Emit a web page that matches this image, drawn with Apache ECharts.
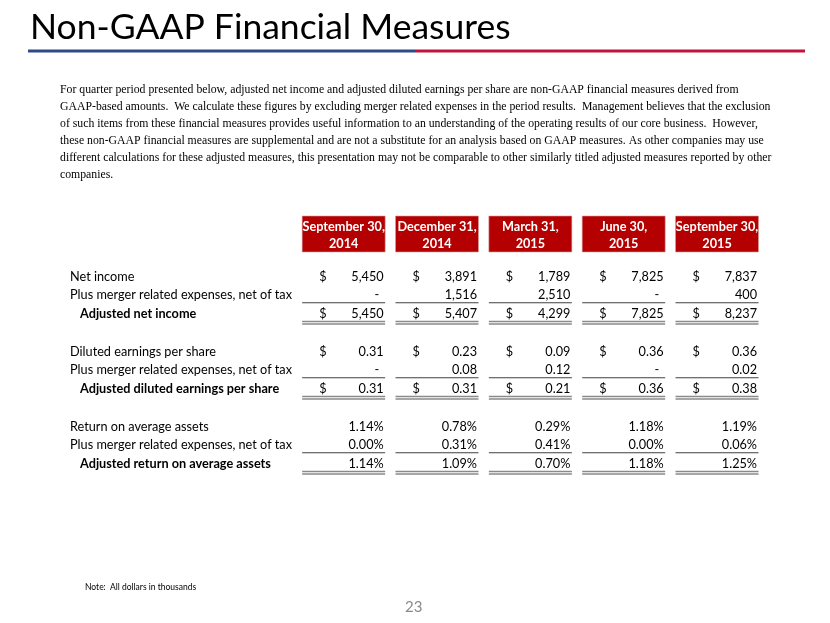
<!DOCTYPE html>
<html>
<head>
<meta charset="utf-8">
<script src="https://cdn.jsdelivr.net/npm/echarts@6/dist/echarts.min.js"></script>
<style>
html,body{margin:0;padding:0;background:#fff;}
#main{width:830px;height:623px;}
</style>
</head>
<body>
<div id="main"></div>
<script>
// ---- data ----
const periods = ['September 30,\n2014', 'December 31,\n2014', 'March 31,\n2015', 'June 30,\n2015', 'September 30,\n2015'];
const rowLabels = [
  'Net income',
  'Plus merger related expenses, net of tax',
  'Adjusted net income',
  'Diluted earnings per share',
  'Plus merger related expenses, net of tax',
  'Adjusted diluted earnings per share',
  'Return on average assets',
  'Plus merger related expenses, net of tax',
  'Adjusted return on average assets'
];
const netIncome = [5450, 3891, 1789, 7825, 7837];
const mergerNetIncome = [null, 1516, 2510, null, 400];
const adjNetIncome = [5450, 5407, 4299, 7825, 8237];
const dilutedEPS = [0.31, 0.23, 0.09, 0.36, 0.36];
const mergerEPS = [null, 0.08, 0.12, null, 0.02];
const adjEPS = [0.31, 0.31, 0.21, 0.36, 0.38];
const roaa = [1.14, 0.78, 0.29, 1.18, 1.19];
const mergerROAA = [0.00, 0.31, 0.41, 0.00, 0.06];
const adjROAA = [1.14, 1.09, 0.70, 1.18, 1.25];

const paragraph = [
  'For quarter period presented below, adjusted net income and adjusted diluted earnings per share are non-GAAP financial measures derived from',
  'GAAP-based amounts.  We calculate these figures by excluding merger related expenses in the period results.  Management believes that the exclusion',
  'of such items from these financial measures provides useful information to an understanding of the operating results of our core business.  However,',
  'these non-GAAP financial measures are supplemental and are not a substitute for an analysis based on GAAP measures. As other companies may use',
  'different calculations for these adjusted measures, this presentation may not be comparable to other similarly titled adjusted measures reported by other',
  'companies.'
];

// ---- table structure ----
// fmt: 'int' thousands, 'eps' two decimals, 'pct' percent; dollar: show $ sign; line: under-rule
const rows = [
  {label: rowLabels[0], vals: netIncome,       fmt: 'int', dollar: true,  bold: false, line: null,     pos: 0},
  {label: rowLabels[1], vals: mergerNetIncome, fmt: 'int', dollar: false, bold: false, line: 'single', pos: 1},
  {label: rowLabels[2], vals: adjNetIncome,    fmt: 'int', dollar: true,  bold: true,  line: 'double', pos: 2},
  {label: rowLabels[3], vals: dilutedEPS,      fmt: 'eps', dollar: true,  bold: false, line: null,     pos: 4},
  {label: rowLabels[4], vals: mergerEPS,       fmt: 'eps', dollar: false, bold: false, line: 'single', pos: 5},
  {label: rowLabels[5], vals: adjEPS,          fmt: 'eps', dollar: true,  bold: true,  line: 'double', pos: 6},
  {label: rowLabels[6], vals: roaa,            fmt: 'pct', dollar: false, bold: false, line: null,     pos: 8},
  {label: rowLabels[7], vals: mergerROAA,      fmt: 'pct', dollar: false, bold: false, line: 'single', pos: 9},
  {label: rowLabels[8], vals: adjROAA,         fmt: 'pct', dollar: false, bold: true,  line: 'double', pos: 10}
];
const HEADER_POS = -2.24;

function fmtVal(v, fmt) {
  if (v === null || v === undefined) return '-';
  if (fmt === 'int') return v.toLocaleString('en-US');
  if (fmt === 'eps') return v.toFixed(2);
  return v.toFixed(2) + '%';
}

const cellData = [];
rows.forEach((r, ri) => {
  r.vals.forEach((v, ci) => cellData.push([ci, r.pos, ri]));
});
const labelData = rows.map((r, ri) => [0, r.pos, ri]);
const headerData = periods.map((p, ci) => [ci, HEADER_POS, ci]);

const TABLE_FONT = 'Lato, "Open Sans", sans-serif';
const TABLE_SIZE = 12.7;

const chart = echarts.init(document.getElementById('main'), null, {renderer: 'canvas'});

const option = {
  backgroundColor: '#ffffff',
  animation: false,
  grid: {left: 297, right: 66.3, top: 219.75, bottom: 140.75},
  xAxis: {type: 'category', data: periods, show: false, boundaryGap: true},
  yAxis: {type: 'value', inverse: true, min: -3, max: 11, show: false},
  series: [
    {
      type: 'custom',
      name: 'header',
      clip: false,
      data: headerData,
      renderItem: function (params, api) {
        const c = api.value(0);
        const pt = api.coord([c, api.value(1)]);
        const bw = 83, bh = 36;
        return {
          type: 'group',
          children: [
            {type: 'rect', shape: {x: pt[0] - bw / 2, y: pt[1] - bh / 2, width: bw, height: bh},
             style: {fill: '#B40000', stroke: '#D9A0A0', lineWidth: 0.6}},
            {type: 'text', x: pt[0], y: pt[1] + 1,
             style: {text: periods[api.value(2)], fill: '#ffffff', font: 'bold 12.7px ' + TABLE_FONT,
                     align: 'center', verticalAlign: 'middle', lineHeight: 17}}
          ]
        };
      }
    },
    {
      type: 'custom',
      name: 'labels',
      clip: false,
      data: labelData,
      renderItem: function (params, api) {
        const r = rows[api.value(2)];
        const pt = api.coord([0, api.value(1)]);
        const x = params.coordSys.x - (r.bold ? 217 : 227);
        return {
          type: 'text', x: x, y: pt[1] + 0.5,
          style: {text: r.label, fill: '#000', font: (r.bold ? 'bold ' : '') + TABLE_SIZE + 'px ' + TABLE_FONT,
                  align: 'left', verticalAlign: 'middle'}
        };
      }
    },
    {
      type: 'custom',
      name: 'cells',
      clip: false,
      data: cellData,
      renderItem: function (params, api) {
        const c = api.value(0);
        const r = rows[api.value(2)];
        const v = r.vals[c];
        const pt = api.coord([c, api.value(1)]);
        const left = pt[0] - 41.5, right = pt[0] + 41.5;
        const font = TABLE_SIZE + 'px ' + TABLE_FONT;
        const children = [];
        const isDash = v === null || v === undefined;
        children.push({type: 'text', x: isDash ? right - 6 : right - 1.5, y: pt[1] + 0.5,
          style: {text: fmtVal(v, r.fmt), fill: '#000', font: font, align: 'right', verticalAlign: 'middle'}});
        if (r.dollar) {
          children.push({type: 'text', x: left + 17, y: pt[1] + 0.5,
            style: {text: '$', fill: '#000', font: font, align: 'left', verticalAlign: 'middle'}});
        }
        if (r.line === 'single') {
          children.push({type: 'line', shape: {x1: left, y1: pt[1] + 8, x2: right, y2: pt[1] + 8},
            style: {stroke: '#404040', lineWidth: 1}});
        } else if (r.line === 'double') {
          children.push({type: 'line', shape: {x1: left, y1: pt[1] + 8, x2: right, y2: pt[1] + 8},
            style: {stroke: '#8a8a8a', lineWidth: 1.5}});
          children.push({type: 'line', shape: {x1: left, y1: pt[1] + 10.5, x2: right, y2: pt[1] + 10.5},
            style: {stroke: '#8a8a8a', lineWidth: 1.5}});
        }
        return {type: 'group', children: children};
      }
    }
  ],
  graphic: [
    {type: 'text', left: 30, top: 10,
     style: {text: 'Non-GAAP Financial Measures', fill: '#000', font: '35.5px Lato, sans-serif'}},
    {type: 'rect', shape: {x: 28, y: 49.5, width: 387, height: 3}, style: {fill: '#2E4A87'}},
    {type: 'rect', shape: {x: 415, y: 49.5, width: 390, height: 3}, style: {fill: '#C0143C'}},
    {type: 'text', left: 60, top: 81,
     style: {text: paragraph.join('\n'), fill: '#000', font: '11.75px "Liberation Serif", serif', lineHeight: 17}},
    {type: 'text', left: 85, top: 583,
     style: {text: 'Note:  All dollars in thousands', fill: '#000', font: '8.5px Lato, sans-serif'}},
    {type: 'text', left: 405, top: 600,
     style: {text: '23', fill: '#8a8a8a', font: '15px Lato, sans-serif'}}
  ]
};
chart.setOption(option);
</script>
</body>
</html>
